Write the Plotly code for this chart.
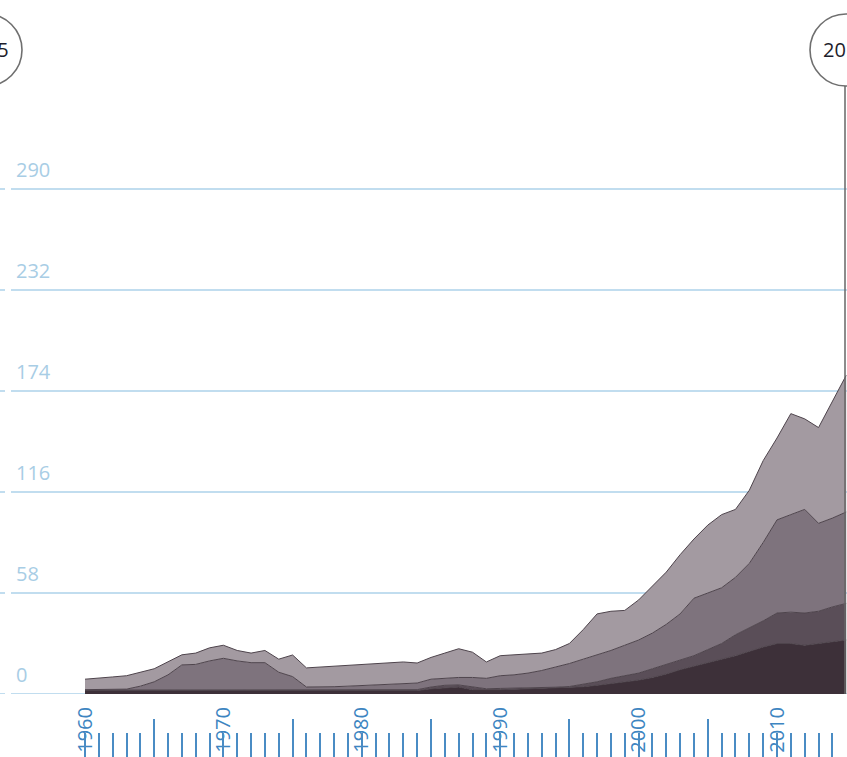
import plotly.graph_objects as go

# ---------------- data ----------------
years = list(range(1960, 2016))

series_darkest = [2.0, 2.0, 2.0, 2.0, 2.0, 2.0, 2.0, 2.0, 2.0, 2.0,
                  2.0, 2.0, 2.0, 2.0, 2.0, 2.0, 2.0, 2.0, 2.0, 2.0,
                  2.0, 2.0, 2.0, 2.0, 2.0, 3.0, 3.5, 4.0, 2.5, 2.3,
                  2.5, 2.7, 3.0, 3.2, 3.4, 3.6, 4.2, 5.0, 6.0, 7.0,
                  8.0, 9.5, 11.5, 14.0, 16.0, 18.0, 20.0, 22.0, 24.5, 27.0,
                  29.0, 29.0, 28.0, 29.0, 30.0, 31.0]

series_dark = [0.3, 0.3, 0.3, 0.3, 0.3, 0.3, 0.3, 0.3, 0.3, 0.3,
               0.3, 0.3, 0.3, 0.3, 0.3, 0.3, 0.3, 0.3, 0.3, 0.3,
               0.3, 0.3, 0.3, 0.3, 0.5, 1.0, 1.5, 1.2, 1.5, 0.7,
               0.7, 0.6, 0.5, 0.5, 0.5, 0.7, 1.3, 2.0, 3.0, 3.5,
               4.0, 5.0, 5.5, 5.5, 6.0, 7.5, 9.0, 12.0, 13.5, 15.0,
               17.5, 18.0, 18.5, 18.5, 20.0, 21.0]

series_mid = [0.2, 0.2, 0.3, 0.5, 2.2, 4.7, 8.7, 14.4, 14.7, 16.7,
              18.2, 16.7, 15.7, 15.7, 10.2, 7.7, 1.7, 1.7, 1.9, 2.2,
              2.5, 2.7, 3.0, 3.4, 3.8, 4.5, 4.2, 4.3, 5.5, 6.0,
              7.3, 7.7, 8.5, 9.8, 11.6, 13.2, 14.5, 15.5, 16.0, 17.5,
              19.0, 20.5, 23.0, 26.5, 33.0, 32.5, 32.0, 33.0, 37.0, 45.0,
              53.5, 56.0, 59.5, 50.5, 51.0, 52.5]

series_light = [6.0, 6.5, 7.2, 7.7, 8.0, 7.5, 7.5, 5.8, 6.5, 7.5,
                7.5, 6.0, 5.5, 7.0, 7.5, 12.4, 11.0, 11.5, 11.8, 12.0,
                12.2, 12.5, 12.7, 12.7, 11.5, 12.5, 14.3, 16.5, 14.5, 9.4,
                11.5, 11.5, 11.0, 10.0, 10.0, 11.5, 17.0, 23.5, 22.5, 20.0,
                23.0, 27.0, 30.0, 34.0, 34.0, 39.0, 42.0, 39.0, 42.0, 47.0,
                47.0, 58.0, 52.0, 55.0, 67.0, 78.5]

y_ticks = [0, 58, 116, 174, 232, 290]
label_years = [1960, 1970, 1980, 1990, 2000, 2010]
long_tick_years = [1965, 1975, 1985, 1995, 2005, 2015]
short_tick_years = [y for y in years if y not in long_tick_years]
left_handle_label = "1955"
right_handle_label = "2015"

# ---------------- geometry / style ----------------
W, H = 847, 757
PX_PER_YEAR = 13.84
X0_PX = 85.0             # pixel of 1960
PX_PER_UNIT = 101 / 58.0
ZERO_PX = 694.0
x_lo = 1960 - X0_PX / PX_PER_YEAR
x_hi = x_lo + W / PX_PER_YEAR
y_hi = ZERO_PX / PX_PER_UNIT


def px(x):
    return x / W


def py(y):
    return 1 - y / H


fills = ["#3d3039", "#5a4e58", "#7e737d", "#a39aa1"]
edge = "#4e444c"
series = [series_darkest, series_dark, series_mid, series_light]

fig = go.Figure()
for vals, col in zip(series, fills):
    fig.add_trace(go.Scatter(
        x=years, y=vals, mode="lines", stackgroup="one",
        line=dict(color=edge, width=1), fillcolor=col,
        hoverinfo="skip", showlegend=False))

# invisible trace to activate the tick axis
fig.add_trace(go.Scatter(x=years, y=series_darkest, xaxis="x2", mode="lines",
                         line=dict(width=0), opacity=0, hoverinfo="skip",
                         showlegend=False))

shapes = []
annotations = []
grid_col = "#acd2ea"
for v in y_ticks:
    shapes.append(dict(type="line", xref="paper", yref="y", x0=px(11), x1=1,
                       y0=v, y1=v, line=dict(color=grid_col, width=1.5),
                       layer="below"))
    shapes.append(dict(type="line", xref="paper", yref="y", x0=0, x1=px(5),
                       y0=v, y1=v, line=dict(color=grid_col, width=1.5),
                       layer="below"))
    annotations.append(dict(xref="paper", yref="y", x=px(14), y=v,
                            text=str(v), showarrow=False, xanchor="left",
                            yanchor="bottom", yshift=4,
                            font=dict(family="Open Sans", size=20,
                                      color="#a8cde5")))

# slider handles
R = 36
CY = 50
for cx, label in [(-14, left_handle_label), (846, right_handle_label)]:
    shapes.append(dict(type="circle", xref="paper", yref="paper",
                       x0=px(cx - R), x1=px(cx + R), y0=py(CY + R), y1=py(CY - R),
                       fillcolor="white", line=dict(color="#6f6f6f", width=1.6),
                       layer="above"))
    annotations.append(dict(xref="paper", yref="paper", x=px(cx), y=py(CY),
                            text=label, showarrow=False, xanchor="center",
                            yanchor="middle",
                            font=dict(family="Open Sans", size=20,
                                      color="#1d1d2b")))
shapes.append(dict(type="line", xref="paper", yref="paper",
                   x0=px(845), x1=px(845), y0=py(CY + R), y1=py(ZERO_PX),
                   line=dict(color="#666666", width=1.5), layer="above"))

fig.update_layout(
    width=W, height=H,
    margin=dict(l=0, r=0, t=0, b=0),
    paper_bgcolor="white", plot_bgcolor="white",
    showlegend=False,
    shapes=shapes, annotations=annotations,
    xaxis=dict(range=[x_lo, x_hi], showgrid=False, zeroline=False,
               showline=False, tickmode="array", tickvals=label_years,
               ticktext=[str(y) for y in label_years], tickangle=-90,
               tickfont=dict(family="Open Sans", size=20, color="#3d85c1"),
               ticks="", ticklabelstandoff=8, ticklabelshift=0,
               automargin=False, fixedrange=True),
    xaxis2=dict(overlaying="x", anchor="free", position=0, side="bottom",
                range=[x_lo, x_hi], showgrid=False, zeroline=False,
                showline=False, showticklabels=False, tickmode="array",
                tickvals=long_tick_years, ticks="inside", ticklen=38,
                tickwidth=2, tickcolor="#4a8cc4", automargin=False,
                fixedrange=True,
                minor=dict(tickmode="array", tickvals=short_tick_years,
                           ticks="inside", ticklen=24, tickwidth=2,
                           tickcolor="#4a8cc4", showgrid=False)),
    yaxis=dict(domain=[1 - ZERO_PX / H, 1], range=[0, y_hi], showgrid=False,
               zeroline=False, showticklabels=False, ticks="",
               automargin=False, fixedrange=True),
)

fig.write_html("out.html", config={"displayModeBar": False},
               post_script="document.body.style.margin='0';"
                           "document.body.style.padding='0';"
                           "document.body.style.overflow='hidden';"
                           "document.documentElement.style.overflow='hidden';")
